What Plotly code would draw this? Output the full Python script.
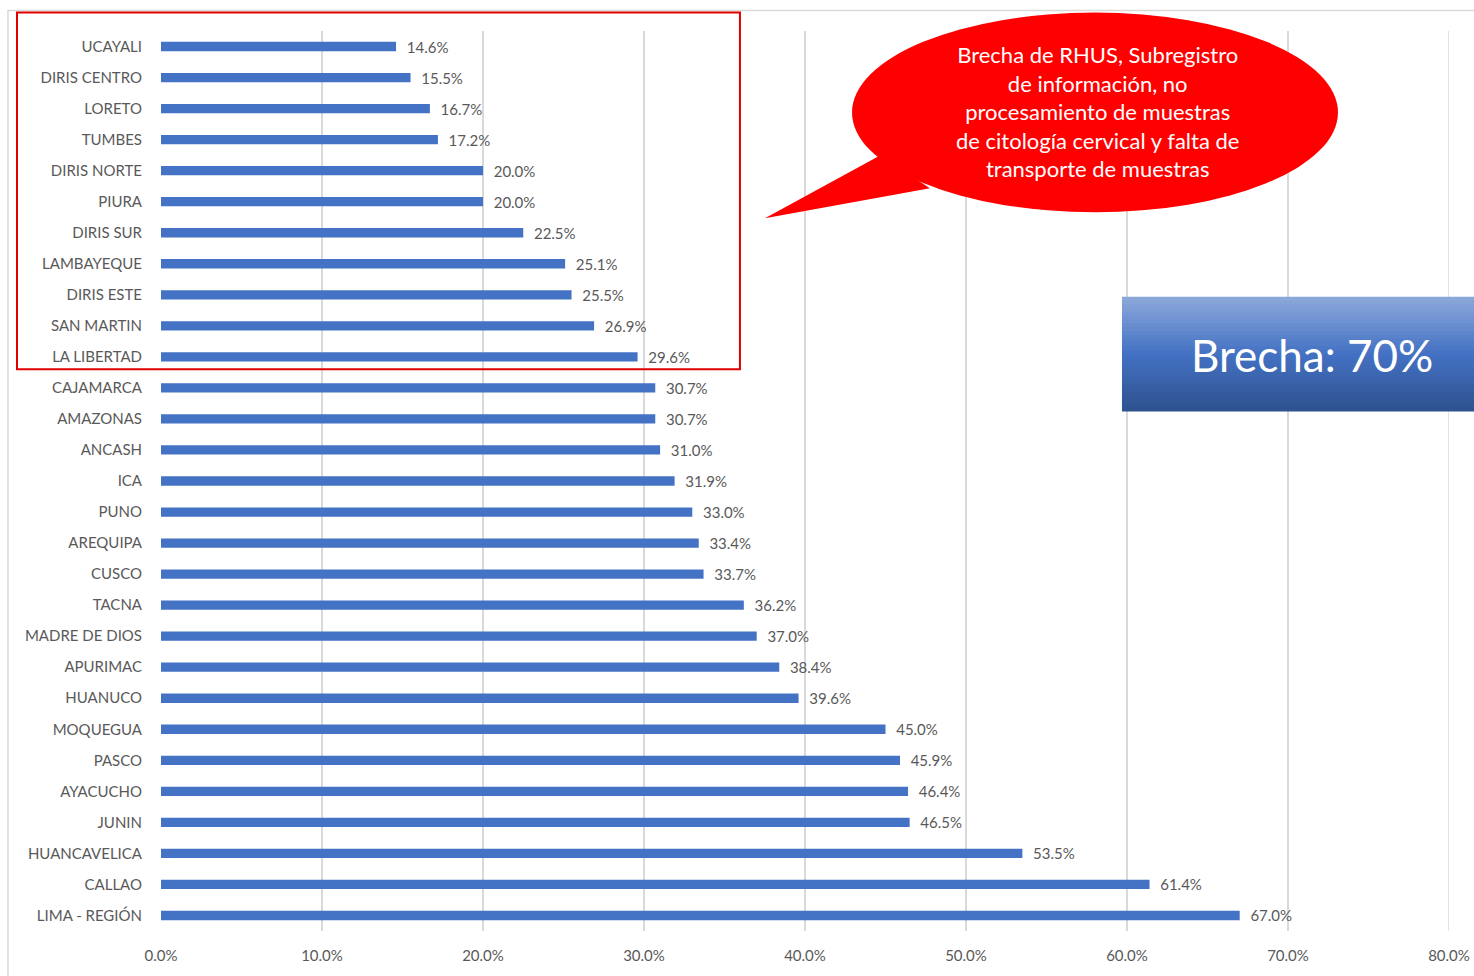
import plotly.graph_objects as go

regions = ["UCAYALI", "DIRIS CENTRO", "LORETO", "TUMBES", "DIRIS NORTE", "PIURA",
           "DIRIS SUR", "LAMBAYEQUE", "DIRIS ESTE", "SAN MARTIN", "LA LIBERTAD",
           "CAJAMARCA", "AMAZONAS", "ANCASH", "ICA", "PUNO", "AREQUIPA", "CUSCO",
           "TACNA", "MADRE DE DIOS", "APURIMAC", "HUANUCO", "MOQUEGUA", "PASCO",
           "AYACUCHO", "JUNIN", "HUANCAVELICA", "CALLAO", "LIMA - REGIÓN"]
values = [14.6, 15.5, 16.7, 17.2, 20.0, 20.0, 22.5, 25.1, 25.5, 26.9, 29.6,
          30.7, 30.7, 31.0, 31.9, 33.0, 33.4, 33.7, 36.2, 37.0, 38.4, 39.6,
          45.0, 45.9, 46.4, 46.5, 53.5, 61.4, 67.0]
x_ticks = [0, 10, 20, 30, 40, 50, 60, 70, 80]
x_tick_labels = [f"{v:.1f}%" for v in x_ticks]
bubble_text = ("Brecha de RHUS, Subregistro<br>de información, no<br>"
               "procesamiento de muestras<br>de citología cervical y falta de<br>"
               "transporte de muestras")
box_text = "Brecha: 70%"

FONT = "Lato"
GREY = "#595959"

fig = go.Figure(go.Bar(
    x=values, y=regions, orientation="h",
    marker=dict(color="#4472C4", line=dict(width=0)),
    width=0.3,
    text=[f"  {v:.1f}%" for v in values],
    textposition="outside",
    constraintext="none",
    textfont=dict(family=FONT, size=15, color=GREY),
    cliponaxis=False,
))

shapes = []
# outer chart frame
shapes.append(dict(type="rect", xref="paper", yref="paper",
                   x0=-0.1188, x1=1.2, y0=-0.5, y1=1.0228,
                   line=dict(color="#d9d9d9", width=1.5), fillcolor="rgba(0,0,0,0)",
                   layer="below"))
# last gridline at the right end of the axis
shapes.append(dict(type="line", xref="x", yref="paper", x0=x_ticks[-1], x1=x_ticks[-1],
                   y0=0, y1=1, line=dict(color="#d9d9d9", width=1.5), layer="below"))
# red highlight rectangle
shapes.append(dict(type="rect", xref="paper", yref="paper",
                   x0=-0.1118, x1=0.4495, y0=0.6243, y1=1.0205,
                   line=dict(color="#E00000", width=2), fillcolor="rgba(0,0,0,0)"))
# speech bubble tail
shapes.append(dict(type="path", xref="paper", yref="paper",
                   path="M 0.5582 0.8618 L 0.4689 0.7919 L 0.5970 0.8252 Z",
                   fillcolor="#FF0000", line=dict(width=0)))
# speech bubble ellipse
shapes.append(dict(type="circle", xref="paper", yref="paper",
                   x0=0.5365, x1=0.9138, y0=0.7986, y1=1.0205,
                   fillcolor="#FF0000", line=dict(width=0)))
# gradient blue box (stacked strips)
bx0, bx1, by0, by1 = 0.7461, 1.03, 0.5777, 0.7042
n = 30
top = (142, 169, 219)
mid = (68, 114, 196)
bot = (47, 82, 143)
for i in range(n):
    t = (i + 0.5) / n  # 0 at top, 1 at bottom
    if t < 0.5:
        s = t / 0.5
        c = [top[k] + (mid[k] - top[k]) * s for k in range(3)]
    else:
        s = (t - 0.5) / 0.5
        c = [mid[k] + (bot[k] - mid[k]) * s for k in range(3)]
    ya = by1 - (by1 - by0) * i / n
    yb = by1 - (by1 - by0) * (i + 1) / n
    shapes.append(dict(type="rect", xref="paper", yref="paper",
                       x0=bx0, x1=bx1, y0=yb - 0.0005, y1=ya + 0.0005,
                       fillcolor=f"rgb({int(c[0])},{int(c[1])},{int(c[2])})",
                       line=dict(width=0)))

annotations = [
    dict(xref="paper", yref="paper", x=0.7274, y=0.9105, text=bubble_text,
         showarrow=False, align="center", xanchor="center", yanchor="middle",
         font=dict(family=FONT, size=22, color="white")),
    dict(xref="paper", yref="paper", x=0.8937, y=0.6405, text=box_text,
         showarrow=False, xanchor="center", yanchor="middle",
         font=dict(family=FONT, size=44, color="white")),
]

fig.update_layout(
    width=1474, height=976,
    margin=dict(l=161, r=25, t=30.5, b=44.5, autoexpand=False),
    paper_bgcolor="white", plot_bgcolor="white",
    showlegend=False,
    shapes=shapes, annotations=annotations,
    xaxis=dict(range=[0, 80], tickvals=x_ticks, ticktext=x_tick_labels,
               showgrid=True, gridcolor="#d9d9d9", gridwidth=1.5,
               zeroline=False, showline=False, ticks="", automargin=False,
               ticklabeloverflow="allow", ticklabelstandoff=14,
               tickfont=dict(family=FONT, size=15, color=GREY)),
    yaxis=dict(autorange="reversed", showgrid=False, zeroline=False,
               showline=False, ticks="", ticklabelstandoff=18, automargin=False,
               tickfont=dict(family=FONT, size=15, color=GREY)),
    bargap=0.7,
)

fig.write_html("out.html", config={"displayModeBar": False},
               post_script="document.body.style.margin='0';document.body.style.overflow='hidden';")
